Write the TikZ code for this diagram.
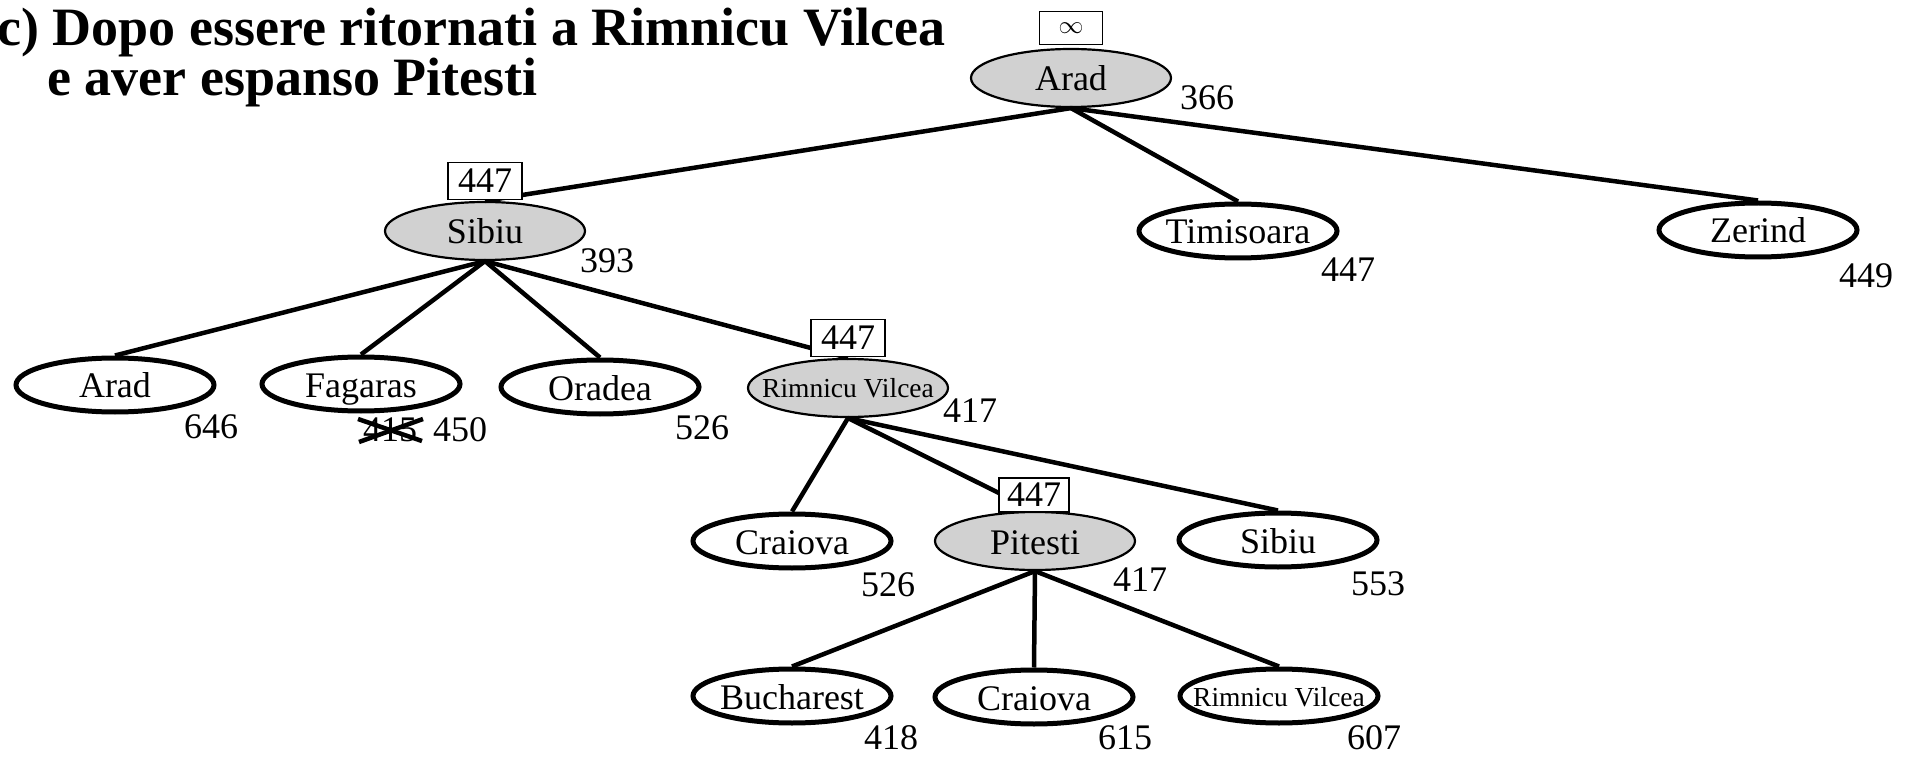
\documentclass[tikz,border=0pt]{standalone}
\usepackage{fontspec}
\setmainfont{Liberation Serif}
\usetikzlibrary{shapes.geometric}
\definecolor{visitgray}{gray}{0.82}
\newcommand\cityname[1]{\makebox[0pt][c]{#1}}
\begin{document}
\begin{tikzpicture}[x=1pt,y=-1pt,
  opencity/.style={ellipse, draw, line width=5pt, fill=white, minimum width=198pt, minimum height=54pt, inner sep=0pt, text height=27pt, text depth=1pt, font=\fontsize{36}{40}\selectfont},
  donecity/.style={ellipse, draw, line width=2.2pt, fill=visitgray, minimum width=200pt, minimum height=58pt, inner sep=0pt, text height=27pt, text depth=1pt, font=\fontsize{36}{40}\selectfont},
  smalltxt/.style={font=\fontsize{27.5}{30}\selectfont, text height=21pt, text depth=1pt},
  fbox/.style={rectangle, draw, line width=1.8pt, fill=white, minimum width=74pt, minimum height=37pt, inner sep=0pt, font=\fontsize{36}{40}\selectfont},
  hval/.style={inner sep=0pt, font=\fontsize{36}{40}\selectfont},
  edge/.style={line width=4.5pt},
  strike/.style={line width=4.5pt},
  titletxt/.style={inner sep=0pt, anchor=base west, font=\fontsize{54}{56}\bfseries\selectfont}
]
\useasboundingbox (0,0) rectangle (1907,759);

% title
\node[titletxt] (t1) at (-3,46) {c) Dopo essere ritornati a Rimnicu Vilcea};
\node[titletxt] (t2) at (47,96) {e aver espanso Pitesti};

% nodes
\node[donecity] (root) at (1071,78) {\cityname{Arad}};
\node[donecity] (sib) at (485,231) {\cityname{Sibiu}};
\node[opencity] (tim) at (1238,231) {\cityname{Timisoara}};
\node[opencity] (zer) at (1758,230) {\cityname{Zerind}};

\node[opencity] (arad2) at (115,385) {\cityname{Arad}};
\node[opencity] (fag) at (361,384) {\cityname{Fagaras}};
\node[opencity] (ora) at (600,387) {\cityname{Oradea}};
\node[donecity, smalltxt] (rv) at (848,388) {\cityname{Rimnicu Vilcea}};

\node[opencity] (cra) at (792,541) {\cityname{Craiova}};
\node[donecity] (pit) at (1035,541) {\cityname{Pitesti}};
\node[opencity] (sib2) at (1278,540) {\cityname{Sibiu}};

\node[opencity] (buc) at (792,696) {\cityname{Bucharest}};
\node[opencity] (cra2) at (1034,697) {\cityname{Craiova}};
\node[opencity, smalltxt] (rv2) at (1279,696) {\cityname{Rimnicu Vilcea}};

% edges
\draw[edge] (root.south) -- (sib.north);
\draw[edge] (root.south) -- (tim.north);
\draw[edge] (root.south) -- (zer.north);
\draw[edge] (sib.south) -- (arad2.north);
\draw[edge] (sib.south) -- (fag.north);
\draw[edge] (sib.south) -- (ora.north);
\draw[edge] (sib.south) -- (rv.north);
\draw[edge] (rv.south) -- (cra.north);
\draw[edge] (rv.south) -- (pit.north);
\draw[edge] (rv.south) -- (sib2.north);
\draw[edge] (pit.south) -- (buc.north);
\draw[edge] (pit.south) -- (cra2.north);
\draw[edge] (pit.south) -- (rv2.north);

% f-limit boxes
\node[fbox, minimum width=63pt, minimum height=33pt] (froot) at (1071,28) {\fontsize{30}{30}\selectfont$\infty$};
\node[fbox] (fsib) at (485,181) {447};
\node[fbox] (frv) at (848,338) {447};
\node[fbox, minimum width=70pt, minimum height=34pt] (fpit) at (1034,495) {447};

% h/f values
\node[hval] (hroot) at (1207,98) {366};
\node[hval] (hsib) at (607,261) {393};
\node[hval] (htim) at (1348,270) {447};
\node[hval] (hzer) at (1866,276) {449};
\node[hval] (harad2) at (211,427) {646};
\node[hval] (hfagold) at (390,430) {415};
\node[hval] (hfag) at (460,430) {450};
\node[hval] (hora) at (702,428) {526};
\node[hval] (hrv) at (970,411) {417};
\node[hval] (hcra) at (888,585) {526};
\node[hval] (hpit) at (1140,580) {417};
\node[hval] (hsib2) at (1378,584) {553};
\node[hval] (hbuc) at (891,738) {418};
\node[hval] (hcra2) at (1125,738) {615};
\node[hval] (hrv2) at (1374,738) {607};

% strike-out of the old value
\coordinate (xa) at (358,419);
\coordinate (xb) at (422,441);
\coordinate (xc) at (359,442);
\coordinate (xd) at (423,419);
\draw[strike] (xa) -- (xb);
\draw[strike] (xc) -- (xd);
\end{tikzpicture}
\end{document}
